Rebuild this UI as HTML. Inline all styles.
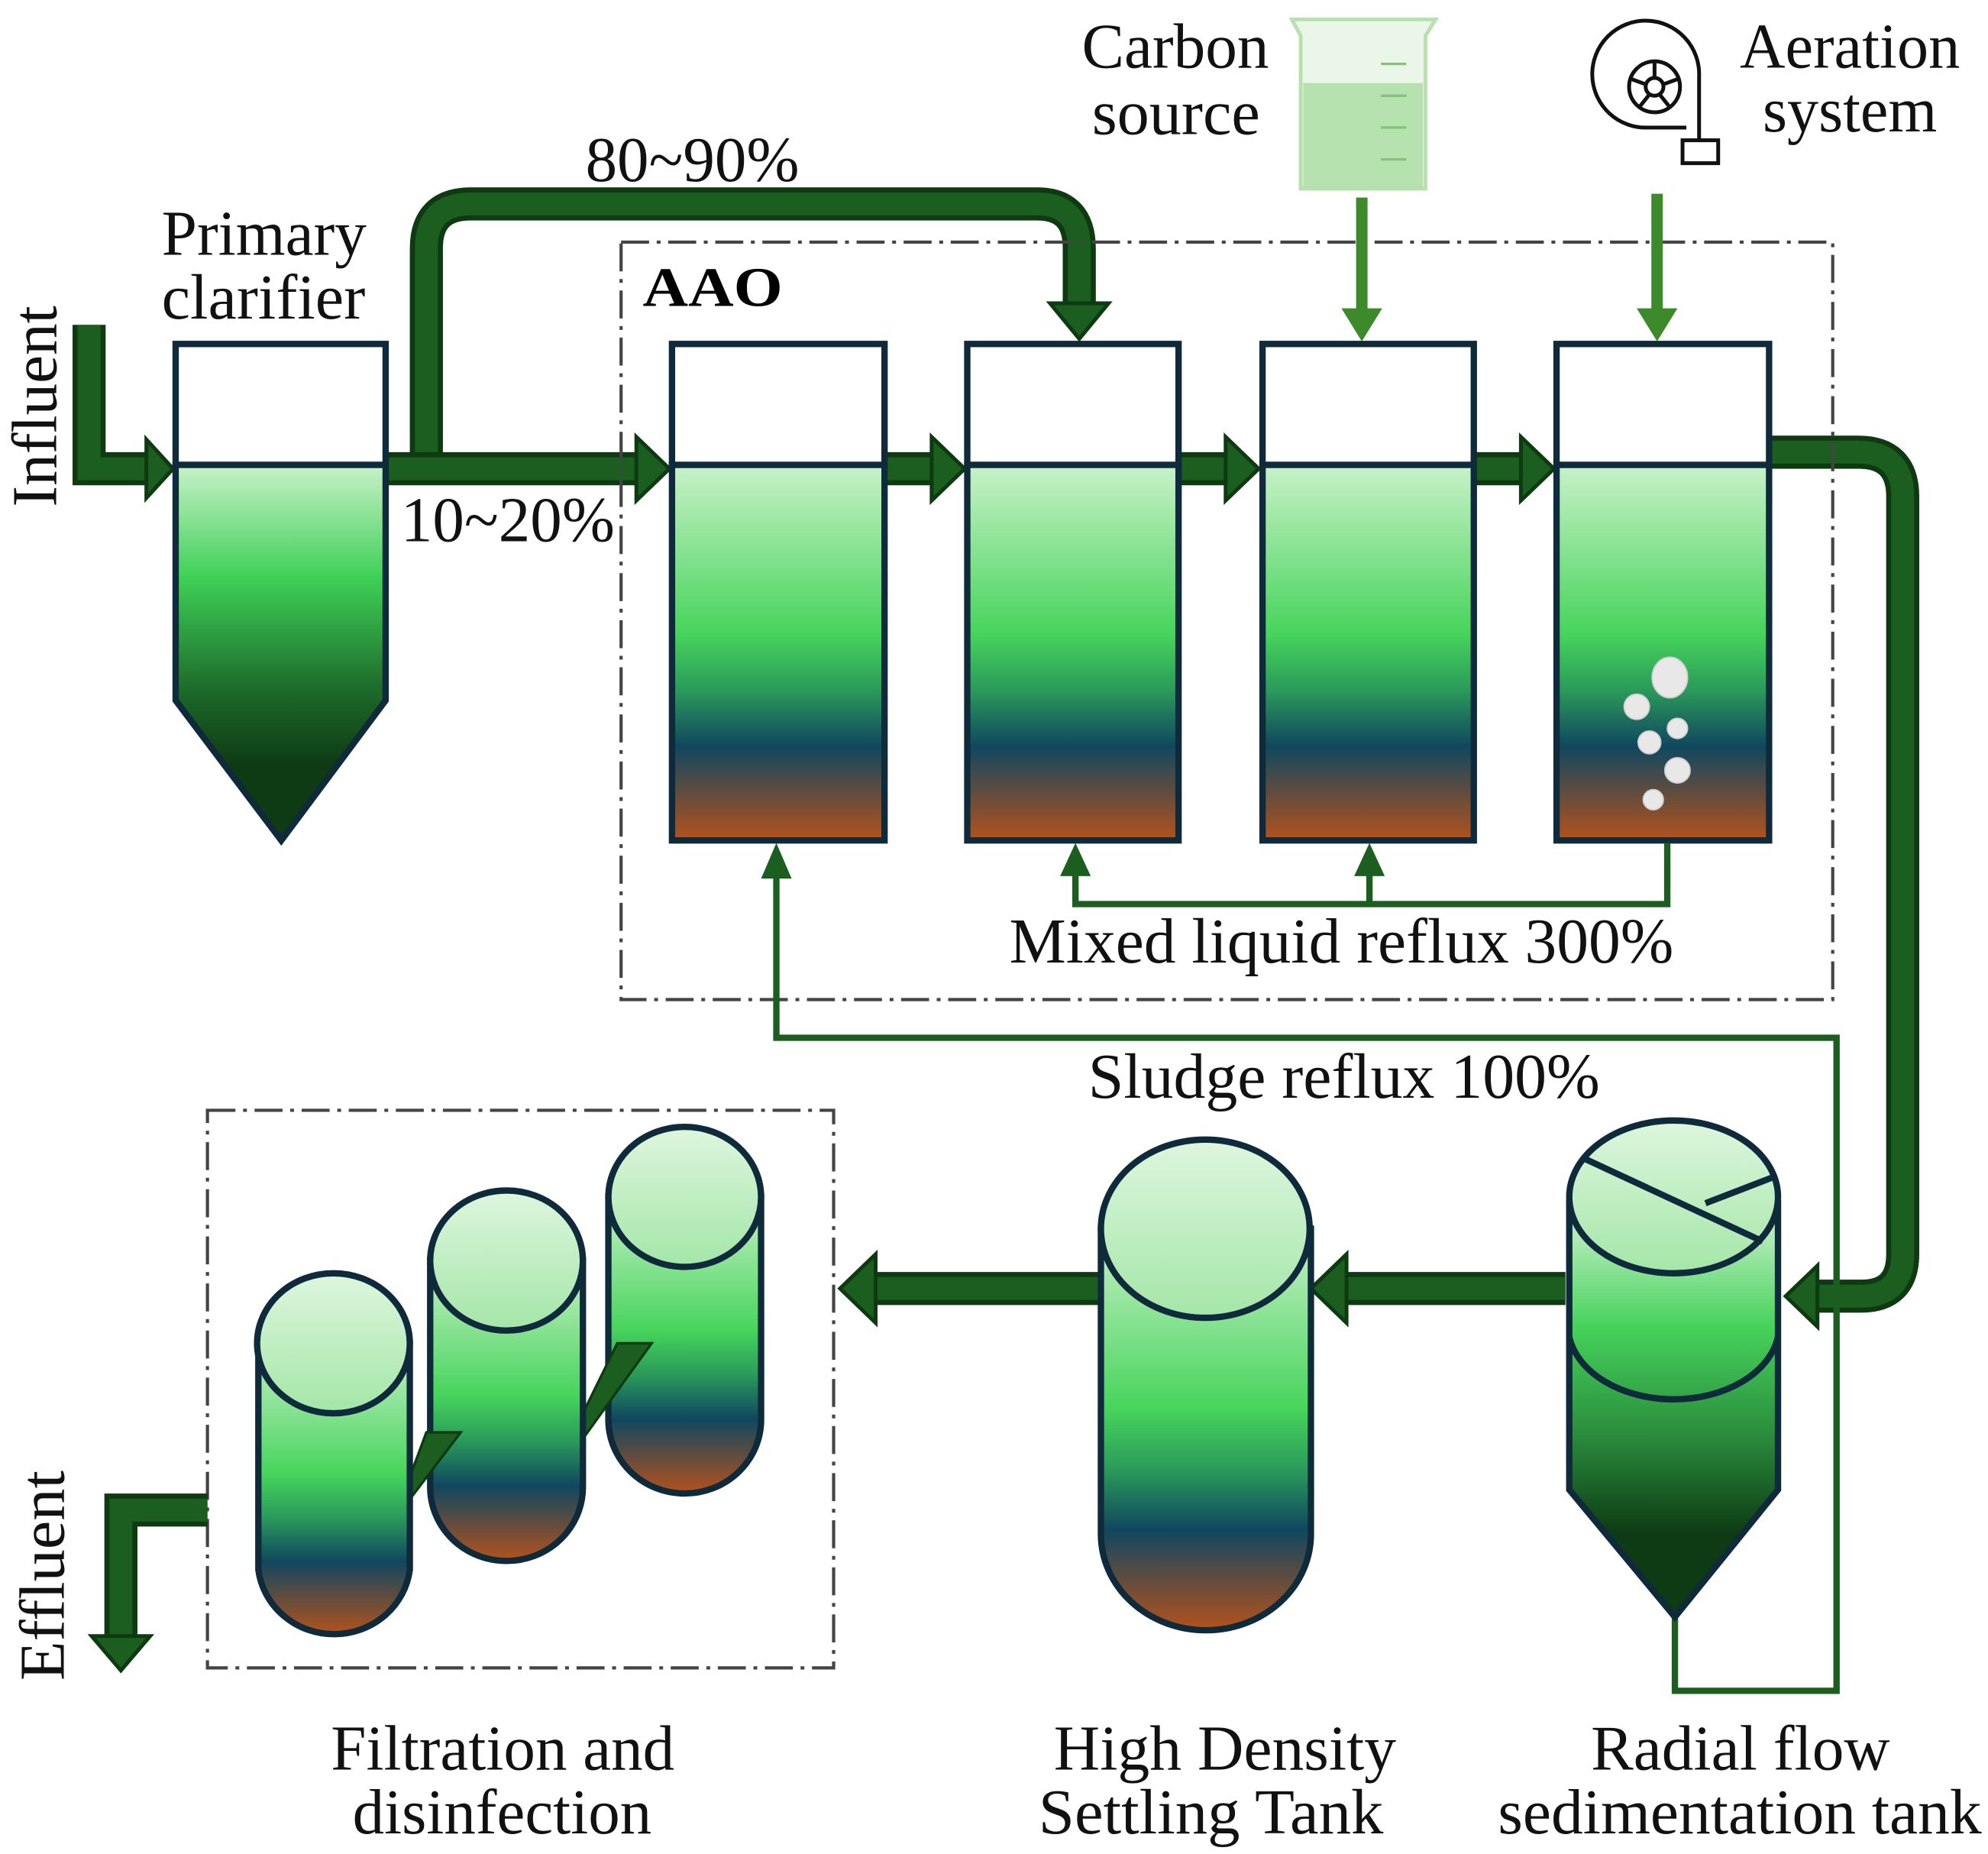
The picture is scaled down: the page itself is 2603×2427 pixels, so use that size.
<!DOCTYPE html>
<html><head><meta charset="utf-8"><style>html,body{margin:0;padding:0;background:#fff}svg{display:block}</style></head><body>
<svg width="2603" height="2427" viewBox="0 0 1562 1456" xmlns="http://www.w3.org/2000/svg" font-family="Liberation Serif, serif">
<defs>
<linearGradient id="g" x1="0" y1="0" x2="0" y2="1">
<stop offset="0" stop-color="#c9f1c9"/><stop offset="0.45" stop-color="#47d45c"/><stop offset="0.6" stop-color="#2a9a5a"/><stop offset="0.75" stop-color="#10475f"/><stop offset="1" stop-color="#b4521c"/></linearGradient>
<linearGradient id="gc" x1="0" y1="0" x2="0" y2="1">
<stop offset="0" stop-color="#c9f1c9"/><stop offset="0.3" stop-color="#3fd058"/><stop offset="0.6" stop-color="#1d6a2a"/><stop offset="0.8" stop-color="#0e3a14"/><stop offset="1" stop-color="#0e3a14"/></linearGradient>
<linearGradient id="gr" x1="0" y1="0" x2="0" y2="1">
<stop offset="0" stop-color="#d6f4d6"/><stop offset="0.3" stop-color="#46d25b"/><stop offset="0.55" stop-color="#2b8f3e"/><stop offset="0.8" stop-color="#0e3a14"/><stop offset="1" stop-color="#0e3a14"/></linearGradient>
<linearGradient id="top" x1="0" y1="0" x2="0" y2="1"><stop offset="0" stop-color="#def6de"/><stop offset="1" stop-color="#a4e6a8"/></linearGradient>
</defs>
<!-- Influent pipe -->
<path d="M70 255 V368 H118" stroke="#0d3a10" stroke-width="26" fill="none"/>
<path d="M70 255 V368 H118" stroke="#1b5e20" stroke-width="18" fill="none"/>
<polygon points="115,345 136,368 115,391" fill="#1b5e20" stroke="#0d3a10" stroke-width="3"/>
<!-- top bypass pipe -->
<path d="M335 368 V195 Q335 160 370 160 H815 Q848 160 848 195 V240" stroke="#0d3a10" stroke-width="26" fill="none"/>
<path d="M335 368 V195 Q335 160 370 160 H815 Q848 160 848 195 V240" stroke="#1b5e20" stroke-width="18" fill="none"/>
<polygon points="825,238 848,266 871,238" fill="#1b5e20" stroke="#0d3a10" stroke-width="3"/>
<!-- main pipe -->
<path d="M303 368 H505" stroke="#0d3a10" stroke-width="26"/><path d="M303 368 H505" stroke="#1b5e20" stroke-width="18"/>
<polygon points="500,343 526,368 500,393" fill="#1b5e20" stroke="#0d3a10" stroke-width="3"/>
<g>
<path d="M695 368 H735" stroke="#0d3a10" stroke-width="26"/><path d="M695 368 H735" stroke="#1b5e20" stroke-width="18"/>
<polygon points="732,343 758,368 732,393" fill="#1b5e20" stroke="#0d3a10" stroke-width="3"/>
<path d="M926 368 H966" stroke="#0d3a10" stroke-width="26"/><path d="M926 368 H966" stroke="#1b5e20" stroke-width="18"/>
<polygon points="963,343 989,368 963,393" fill="#1b5e20" stroke="#0d3a10" stroke-width="3"/>
<path d="M1158 368 H1198" stroke="#0d3a10" stroke-width="26"/><path d="M1158 368 H1198" stroke="#1b5e20" stroke-width="18"/>
<polygon points="1195,343 1221,368 1195,393" fill="#1b5e20" stroke="#0d3a10" stroke-width="3"/>
</g>
<!-- right pipe down -->
<path d="M1390 355 H1460 Q1495 355 1495 390 V985 Q1495 1018 1462 1018 H1425" stroke="#0d3a10" stroke-width="26" fill="none"/>
<path d="M1390 355 H1460 Q1495 355 1495 390 V985 Q1495 1018 1462 1018 H1425" stroke="#1b5e20" stroke-width="18" fill="none"/>
<polygon points="1428,994 1403,1018 1428,1042" fill="#1b5e20" stroke="#0d3a10" stroke-width="3"/>
<!-- AAO box -->
<rect x="488" y="190" width="952" height="595" fill="none" stroke="#444" stroke-width="2.5" stroke-dasharray="22,6,3,6"/>
<text x="505" y="240" font-size="44" font-weight="bold" textLength="110" lengthAdjust="spacingAndGlyphs">AAO</text>
<!-- primary clarifier -->
<rect x="138" y="270" width="165" height="95" fill="#fff" stroke="#0f2a3a" stroke-width="5"/>
<path d="M138 365 H303 V550 L221 660 L138 550 Z" fill="url(#gc)" stroke="#0f2a3a" stroke-width="5"/>
<!-- tanks -->
<g stroke="#0f2a3a" stroke-width="5">
<rect x="528" y="270" width="167" height="95" fill="#fff"/><rect x="528" y="365" width="167" height="295" fill="url(#g)"/>
<rect x="760" y="270" width="166" height="95" fill="#fff"/><rect x="760" y="365" width="166" height="295" fill="url(#g)"/>
<rect x="992" y="270" width="166" height="95" fill="#fff"/><rect x="992" y="365" width="166" height="295" fill="url(#g)"/>
<rect x="1223" y="270" width="167" height="95" fill="#fff"/><rect x="1223" y="365" width="167" height="295" fill="url(#g)"/>
</g>
<g fill="#e8e8e8" stroke="#ccc" stroke-width="1">
<ellipse cx="1312" cy="532" rx="14" ry="16"/><circle cx="1286" cy="555" r="10"/><circle cx="1318" cy="572" r="8"/><circle cx="1296" cy="583" r="9"/><circle cx="1318" cy="605" r="10"/><circle cx="1299" cy="628" r="8"/>
</g>
<!-- carbon & aeration arrows -->
<path d="M1070 155 V245" stroke="#3d8a2a" stroke-width="9"/><polygon points="1054,242 1070,268 1086,242" fill="#3d8a2a"/>
<path d="M1302 152 V245" stroke="#3d8a2a" stroke-width="9"/><polygon points="1286,242 1302,268 1318,242" fill="#3d8a2a"/>
<!-- beaker -->
<path d="M1015 15 H1128 L1120 28 V148 H1022 V28 Z" fill="#eaf7e8" stroke="#b8e0b0" stroke-width="3"/>
<rect x="1024" y="65" width="94" height="82" fill="#a8dca0" opacity="0.8"/>
<g stroke="#86c27c" stroke-width="2"><line x1="1085" y1="50" x2="1105" y2="50"/><line x1="1085" y1="75" x2="1105" y2="75"/><line x1="1085" y1="100" x2="1105" y2="100"/><line x1="1085" y1="125" x2="1105" y2="125"/></g>
<!-- blower -->
<g fill="none" stroke="#111" stroke-width="3">
<path d="M1335 110 V60 A42 42 0 1 0 1295 100 H1325"/>
<circle cx="1300" cy="68" r="20"/><circle cx="1300" cy="68" r="7"/>
<path d="M1300 48 L1300 61 M1318 62 L1307 66 M1312 84 L1304 74 M1288 84 L1296 74 M1282 62 L1293 66"/>
<rect x="1322" y="110" width="28" height="18"/>
</g>
<!-- reflux lines -->
<g stroke="#1b5e20" stroke-width="5" fill="none">
<path d="M1310 662 V710 H845 V680"/><path d="M1076 710 V680"/>
<path d="M1316 1270 V1328 H1443 V815 H610 V685"/>
</g>
<g fill="#1b5e20"><polygon points="833,688 845,662 857,688"/><polygon points="1064,688 1076,662 1088,688"/><polygon points="598,690 610,662 622,690"/></g>
<!-- lower arrows -->
<path d="M1230 1012 H1055" stroke="#0d3a10" stroke-width="26"/><path d="M1230 1012 H1055" stroke="#1b5e20" stroke-width="18"/>
<polygon points="1058,985 1030,1012 1058,1039" fill="#1b5e20" stroke="#0d3a10" stroke-width="3"/>
<path d="M870 1012 H685" stroke="#0d3a10" stroke-width="26"/><path d="M870 1012 H685" stroke="#1b5e20" stroke-width="18"/>
<polygon points="688,985 660,1012 688,1039" fill="#1b5e20" stroke="#0d3a10" stroke-width="3"/>
<!-- radial tank -->
<g stroke="#0f2a3a" stroke-width="5">
<path d="M1233 945 V1170 L1316 1270 L1397 1170 V945 Z" fill="url(#gr)"/>
<path d="M1233 1050 A83 58 0 0 0 1397 1050" fill="none"/>
<ellipse cx="1315" cy="940" rx="82" ry="60" fill="url(#top)"/>
<path d="M1245 910 L1385 975 M1340 945 L1392 925" fill="none"/>
</g>
<!-- HDST -->
<path d="M865 965 V1205 A82 75 0 0 0 1030 1205 V965 Z" fill="url(#g)" stroke="#0f2a3a" stroke-width="5"/>
<ellipse cx="947" cy="965" rx="82" ry="70" fill="url(#top)" stroke="#0f2a3a" stroke-width="5"/>
<!-- filter box -->
<rect x="163" y="872" width="492" height="438" fill="none" stroke="#444" stroke-width="2.5" stroke-dasharray="22,6,3,6"/>
<!-- effluent pipe -->
<path d="M163 1186 H95 V1290" stroke="#0d3a10" stroke-width="26" fill="none"/>
<path d="M163 1186 H95 V1290" stroke="#1b5e20" stroke-width="18" fill="none"/>
<polygon points="72,1285 95,1312 118,1285" fill="#1b5e20" stroke="#0d3a10" stroke-width="3"/>
<!-- filters -->
<g stroke="#0f2a3a" stroke-width="5">
<path d="M478 940 V1115 A60 58 0 0 0 598 1115 V940 Z" fill="url(#g)"/>
<ellipse cx="538" cy="940" rx="60" ry="55" fill="url(#top)"/>
<polygon points="458,1110 485,1055 512,1055 458,1130" fill="#1b5e20" stroke="#0d3a10" stroke-width="2"/>
<path d="M338 990 V1168 A60 58 0 0 0 458 1168 V990 Z" fill="url(#g)"/>
<ellipse cx="398" cy="990" rx="60" ry="55" fill="url(#top)"/>
<polygon points="322,1160 335,1125 362,1125 314,1188" fill="#1b5e20" stroke="#0d3a10" stroke-width="2"/>
<path d="M203 1055 V1233 A60 58 0 0 0 322 1233 V1055 Z" fill="url(#g)"/>
<ellipse cx="262" cy="1055" rx="60" ry="55" fill="url(#top)"/>
</g>
<!-- labels -->
<g font-size="50" fill="#111" lengthAdjust="spacingAndGlyphs">
<text x="127" y="200" textLength="161" lengthAdjust="spacingAndGlyphs">Primary</text><text x="127" y="250" textLength="160" lengthAdjust="spacingAndGlyphs">clarifier</text>
<text x="460" y="142" textLength="168" lengthAdjust="spacingAndGlyphs">80~90%</text>
<text x="315" y="425" textLength="168" lengthAdjust="spacingAndGlyphs">10~20%</text>
<text x="850" y="53" textLength="147" lengthAdjust="spacingAndGlyphs">Carbon</text><text x="858" y="105" textLength="132" lengthAdjust="spacingAndGlyphs">source</text>
<text x="1367" y="53" textLength="173" lengthAdjust="spacingAndGlyphs">Aeration</text><text x="1385" y="103" textLength="137" lengthAdjust="spacingAndGlyphs">system</text>
<text x="793" y="756" textLength="522" lengthAdjust="spacingAndGlyphs">Mixed liquid reflux 300%</text>
<text x="855" y="862" textLength="402" lengthAdjust="spacingAndGlyphs">Sludge reflux 100%</text>
<text x="260" y="1390" textLength="270" lengthAdjust="spacingAndGlyphs">Filtration and</text><text x="277" y="1440" textLength="235" lengthAdjust="spacingAndGlyphs">disinfection</text>
<text x="828" y="1390" textLength="269" lengthAdjust="spacingAndGlyphs">High Density</text><text x="816" y="1440" textLength="271" lengthAdjust="spacingAndGlyphs">Settling Tank</text>
<text x="1250" y="1390" textLength="235" lengthAdjust="spacingAndGlyphs">Radial flow</text><text x="1177" y="1440" textLength="380" lengthAdjust="spacingAndGlyphs">sedimentation tank</text>
<text transform="translate(44,398) rotate(-90)" textLength="158" lengthAdjust="spacingAndGlyphs">Influent</text>
<text transform="translate(50,1320) rotate(-90)" textLength="165" lengthAdjust="spacingAndGlyphs">Effluent</text>
</g>
</svg>
</body></html>
